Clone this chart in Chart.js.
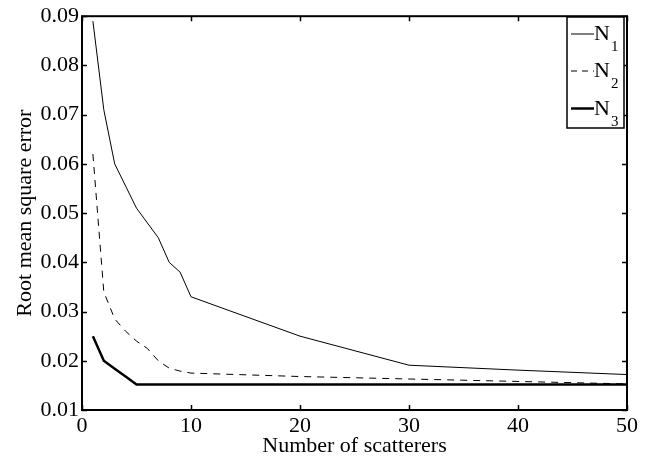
<!DOCTYPE html>
<html>
<head>
<meta charset="utf-8">
<script src="https://cdn.jsdelivr.net/npm/chart.js@4/dist/chart.umd.min.js"></script>
<style>
html, body { margin: 0; padding: 0; background: #fff; }
#wrap { width: 656px; height: 459px; }
</style>
</head>
<body>
<div id="wrap"><canvas id="c" width="656" height="459"></canvas></div>
<script>
// Number of scatterers => RMS error, three curves
var scatterers = [1, 2, 3, 4, 5, 6, 7, 8, 9, 10, 20, 30, 40, 50];
var n1 = [0.089, 0.071, 0.060, 0.0555, 0.051, 0.048, 0.045, 0.040, 0.038, 0.033, 0.025, 0.0191, 0.0181, 0.0172];
var n2 = [0.062, 0.034, 0.0285, 0.026, 0.024, 0.0225, 0.020, 0.0185, 0.0179, 0.0175, 0.0168, 0.0163, 0.0158, 0.0153];
var n3 = [0.025, 0.020, 0.0184, 0.0168, 0.0152, 0.0152, 0.0152, 0.0152, 0.0152, 0.0152, 0.0152, 0.0152, 0.0152, 0.0152];
var seriesNames = ["N", "N", "N"];
var seriesSubs = ["1", "2", "3"];
var xTicks = [0, 10, 20, 30, 40, 50];
var yTicks = [0.01, 0.02, 0.03, 0.04, 0.05, 0.06, 0.07, 0.08, 0.09];

var serif = "'Liberation Serif', 'Times New Roman', serif";

var toPoints = function (ys) {
    return ys.map(function (y, i) { return { x: scatterers[i], y: y }; });
};

var styles = [
    { width: 1, dash: [] },
    { width: 1, dash: [7, 6] },
    { width: 2.5, dash: [] }
];

var datasets = [n1, n2, n3].map(function (ys, i) {
    return {
        label: seriesNames[i] + seriesSubs[i],
        data: toPoints(ys),
        borderColor: "#000",
        borderWidth: styles[i].width,
        borderDash: styles[i].dash,
        pointRadius: 0,
        fill: false,
        tension: 0
    };
});

// box + inward ticks on all four sides, like matlab
var framePlugin = {
    id: "frame",
    afterDraw: function (chart) {
        var ctx = chart.ctx;
        var a = chart.chartArea;
        var xs = chart.scales.x, ys = chart.scales.y;
        ctx.save();
        ctx.strokeStyle = "#000";
        ctx.setLineDash([]);
        ctx.lineWidth = 1.5;
        var tl = 5;
        xTicks.forEach(function (v) {
            var px = Math.round(xs.getPixelForValue(v)) + 0.5;
            ctx.beginPath();
            ctx.moveTo(px, a.bottom); ctx.lineTo(px, a.bottom - tl);
            ctx.moveTo(px, a.top); ctx.lineTo(px, a.top + tl);
            ctx.stroke();
        });
        yTicks.forEach(function (v) {
            var py = Math.round(ys.getPixelForValue(v)) + 0.5;
            ctx.beginPath();
            ctx.moveTo(a.left, py); ctx.lineTo(a.left + tl, py);
            ctx.moveTo(a.right, py); ctx.lineTo(a.right - tl, py);
            ctx.stroke();
        });
        ctx.lineWidth = 2;
        ctx.strokeRect(a.left, a.top, a.right - a.left, a.bottom - a.top);

        // legend with subscripts
        var bx = 567, by = 17, bw = 57, bh = 111;
        ctx.fillStyle = "#fff";
        ctx.fillRect(bx, by, bw, bh);
        ctx.lineWidth = 1.5;
        ctx.strokeRect(bx, by, bw, bh);
        var rowY = [34, 71, 108.5];
        ctx.fillStyle = "#000";
        ctx.textBaseline = "alphabetic";
        for (var i = 0; i < 3; i++) {
            ctx.beginPath();
            ctx.lineWidth = styles[i].width;
            ctx.setLineDash(i === 1 ? [6, 5] : []);
            ctx.moveTo(571, rowY[i]);
            ctx.lineTo(594, rowY[i]);
            ctx.stroke();
            ctx.setLineDash([]);
            ctx.font = "22px " + serif;
            ctx.textAlign = "left";
            ctx.fillText(seriesNames[i], 594, rowY[i] + 6);
            var w = ctx.measureText(seriesNames[i]).width;
            ctx.font = "15px " + serif;
            ctx.fillText(seriesSubs[i], 594 + w + 1, rowY[i] + 17);
        }
        ctx.restore();
    }
};

var chart = new Chart(document.getElementById("c").getContext("2d"), {
    type: "line",
    data: { datasets: datasets },
    options: {
        responsive: false,
        animation: false,
        devicePixelRatio: 1,
        layout: { padding: { left: 0, right: 29, top: 14, bottom: 0 } },
        plugins: {
            legend: { display: false },
            tooltip: { enabled: false }
        },
        scales: {
            x: {
                type: "linear",
                min: 0,
                max: 50,
                afterFit: function (s) { s.height = 49; },
                afterBuildTicks: function (s) { s.ticks = xTicks.map(function (v) { return { value: v }; }); },
                grid: { display: false, drawTicks: false },
                border: { display: false },
                ticks: {
                    color: "#000",
                    padding: 3,
                    maxRotation: 0,
                    font: { family: serif, size: 22 }
                },
                title: {
                    display: true,
                    text: "Number of scatterers",
                    color: "#000",
                    padding: { top: 0, bottom: 0 },
                    font: { family: serif, size: 22 }
                }
            },
            y: {
                type: "linear",
                min: 0.01,
                max: 0.09,
                afterFit: function (s) { s.width = 82; },
                afterBuildTicks: function (s) { s.ticks = yTicks.map(function (v) { return { value: v }; }); },
                grid: { display: false, drawTicks: false },
                border: { display: false },
                ticks: {
                    color: "#000",
                    padding: 3,
                    font: { family: serif, size: 22 },
                    callback: function (v) { return Number(v).toFixed(2); }
                },
                title: {
                    display: true,
                    text: "Root mean square error",
                    color: "#000",
                    padding: { top: 12, bottom: 0 },
                    font: { family: serif, size: 22 }
                }
            }
        }
    },
    plugins: [framePlugin]
});
</script>
</body>
</html>
